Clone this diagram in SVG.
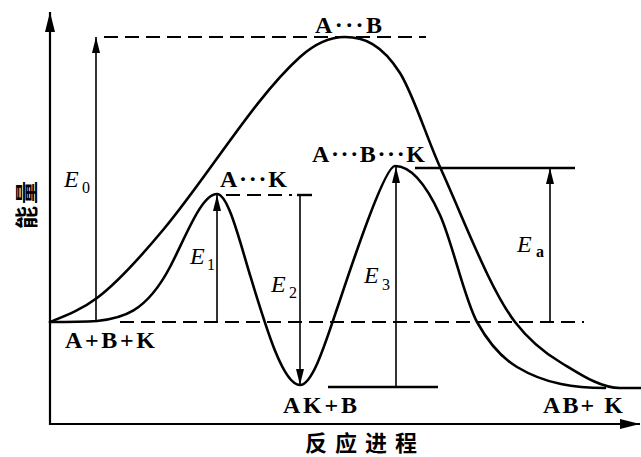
<svg xmlns="http://www.w3.org/2000/svg" width="641" height="457" viewBox="0 0 641 457">
<style>
.curve{fill:none;stroke:#000;stroke-width:2.6;stroke-linejoin:round;stroke-linecap:round}
.axis{fill:none;stroke:#000;stroke-width:2.2}
.arr{fill:none;stroke:#000;stroke-width:1.6}
.solid{fill:none;stroke:#000;stroke-width:2.4}
.dash{fill:none;stroke:#000;stroke-width:2;stroke-dasharray:14 7}
.lbl{font-family:"Liberation Serif","Times New Roman",serif;font-weight:bold;font-size:24px;fill:#000}
.e{font-family:"Liberation Serif","Times New Roman",serif;font-style:italic;font-size:24px;fill:#000}
.sub{font-family:"Liberation Serif","Times New Roman",serif;font-size:16px;fill:#000}
.cjk{font-family:"Noto Sans CJK SC","Noto Sans CJK JP",sans-serif;font-weight:bold;fill:#000}
</style>
<defs>
<marker id="ah" viewBox="0 0 16 8" refX="16" refY="4" markerWidth="16" markerHeight="8" orient="auto" markerUnits="userSpaceOnUse">
<path d="M0,0 L16,4 L0,8 z" fill="#000"/>
</marker>
<marker id="axh" viewBox="0 0 20 10" refX="20" refY="5" markerWidth="20" markerHeight="10" orient="auto" markerUnits="userSpaceOnUse">
<path d="M0,0 L20,5 L0,10 z" fill="#000"/>
</marker>
</defs>
<rect width="641" height="457" fill="#fff"/>
<g id="axes">
<line class="axis" x1="50" y1="425" x2="50" y2="12" marker-end="url(#axh)"/>
<line class="axis" x1="49" y1="424" x2="640" y2="424" marker-end="url(#axh)"/>
</g>
<g id="connectors">
<path id="uncatalyzed" class="curve" d="M50,322 C65.7,315.7 81.3,309.8 97,298 C119,281.5 141,256.4 163,230 C208.7,175.2 254.3,98.1 300,57 C315,43.5 330,37 345,37 C363.3,37 381.7,43.7 400,73 C413.3,94.3 426.7,137.7 440,167 C465,222 490,289.5 515,322 C530,341.5 545,353 560,362 C580,374 600,388 620,388 L641,388"/>
<path id="catalyzed" class="curve" d="M50,322 C65.7,322 81.3,322 97,321 C121.3,318.6 145.7,313.2 170,267 C185.7,237.2 201.3,194 217,194 C228,194 239,238.7 250,275 C266.7,330 283.3,385 300,385 C313.3,385 326.7,338.7 340,300 C355,255 385,166 395,166 C410,166 425,182 440,215 C452.3,242.1 464.7,299.8 477,322 C490.3,346 503.7,359 517,367 C546.3,384.6 575.7,388 605,388"/>
<line class="dash" x1="104" y1="37" x2="426" y2="37"/>
<line class="dash" x1="120" y1="322" x2="584" y2="322"/>
<line class="dash" x1="226" y1="195" x2="292" y2="195"/>
<line class="solid" x1="297" y1="195" x2="312" y2="195"/>
<line class="solid" x1="415" y1="168" x2="575" y2="168"/>
<line class="solid" x1="328" y1="387" x2="438" y2="387"/>
<line class="arr" x1="96" y1="322" x2="96" y2="37" marker-end="url(#ah)"/>
<line class="arr" x1="217" y1="322" x2="217" y2="195" marker-end="url(#ah)"/>
<line class="arr" x1="300" y1="195" x2="300" y2="385" marker-end="url(#ah)"/>
<line class="arr" x1="396" y1="387" x2="396" y2="167" marker-end="url(#ah)"/>
<line class="arr" x1="550" y1="322" x2="550" y2="168" marker-end="url(#ah)"/>
</g>
<g id="node-AB-ts"><text class="lbl" x="315" y="33" textLength="67" lengthAdjust="spacing">A···B</text></g>
<g id="node-AK-ts"><text class="lbl" x="220" y="187" textLength="67" lengthAdjust="spacing">A···K</text></g>
<g id="node-ABK-ts"><text class="lbl" x="312" y="162" textLength="113" lengthAdjust="spacing">A···B···K</text></g>
<g id="node-reactants"><text class="lbl" x="65" y="348" textLength="90" lengthAdjust="spacing">A+B+K</text></g>
<g id="node-intermediate"><text class="lbl" x="283" y="413" textLength="74" lengthAdjust="spacing">AK+B</text></g>
<g id="node-products"><text class="lbl" x="543" y="413" textLength="80" lengthAdjust="spacing">AB+ K</text></g>
<g id="label-E0"><text class="e" x="64" y="187">E</text><text class="sub" x="82" y="193">0</text></g>
<g id="label-E1"><text class="e" x="190" y="264">E</text><text class="sub" x="207" y="270">1</text></g>
<g id="label-E2"><text class="e" x="271" y="292">E</text><text class="sub" x="289" y="298">2</text></g>
<g id="label-E3"><text class="e" x="364" y="283">E</text><text class="sub" x="382" y="290">3</text></g>
<g id="label-Ea"><text class="e" x="517" y="252">E</text><text class="sub" x="536" y="257" font-weight="bold">a</text></g>
<g id="axis-labels">
<text class="cjk" font-size="23" transform="translate(35,229) rotate(-90)" textLength="48" lengthAdjust="spacing">能量</text>
<text class="cjk" font-size="22" x="305" y="451" textLength="112" lengthAdjust="spacing">反应进程</text>
</g>
</svg>
